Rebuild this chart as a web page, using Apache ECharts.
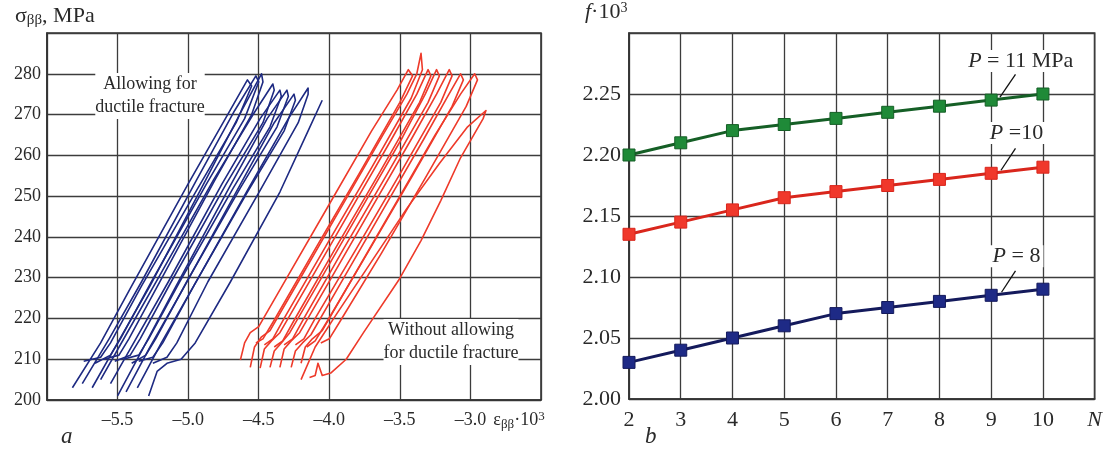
<!DOCTYPE html>
<html><head><meta charset="utf-8">
<script src="https://cdn.jsdelivr.net/npm/echarts@6/dist/echarts.min.js"></script>
<style>html,body{margin:0;padding:0;background:#fff}#c{width:1105px;height:455px}</style>
</head><body><div id="c"></div>
<script>
// ---------- Panel a: hysteresis loops (strain x1e3, stress MPa) ----------
const strainLabels = [-5.5, -5.0, -4.5, -4.0, -3.5, -3.0];
const stressLabels = [200, 210, 220, 230, 240, 250, 260, 270, 280];

const blueLoop1 = [[-5.82,203],[-5.62,214],[-5.40,228],[-5.00,253],[-4.72,270],[-4.58,278.5],[-4.55,277],[-4.66,268],[-4.93,252],[-5.33,228],[-5.55,214],[-5.62,210.5],[-5.74,209.5]];
const blueLoop2 = [[-5.75,204],[-5.56,215],[-5.33,229],[-4.94,254],[-4.67,271],[-4.52,279.5],[-4.50,278],[-4.60,269],[-4.87,253],[-5.26,229],[-5.48,215],[-5.55,211],[-5.66,209]];
const blueLoop3 = [[-5.68,203],[-5.50,214],[-5.27,228],[-4.89,253],[-4.62,271],[-4.48,280],[-4.47,278],[-4.55,270],[-4.81,254],[-5.20,229],[-5.42,215],[-5.49,211],[-5.60,210]];
const blueLoop4 = [[-5.62,205],[-5.44,216],[-5.21,230],[-4.82,254],[-4.54,270],[-4.40,277.5],[-4.39,276],[-4.47,268],[-4.73,253],[-5.12,229],[-5.34,215],[-5.41,211],[-5.52,209.5]];
const blueLoop5 = [[-5.55,204],[-5.37,215],[-5.14,229],[-4.76,253],[-4.49,269],[-4.35,276],[-4.34,274.5],[-4.42,267],[-4.68,252],[-5.06,229],[-5.28,215],[-5.35,211],[-5.46,210]];
const blueLoop6 = [[-5.50,201],[-5.33,212],[-5.10,227],[-4.71,252],[-4.44,269],[-4.30,276],[-4.29,274.5],[-4.37,267],[-4.63,252],[-5.01,229],[-5.23,215],[-5.30,211],[-5.40,209]];
const blueLoop7 = [[-5.44,202],[-5.27,213],[-5.04,227],[-4.66,251],[-4.39,268],[-4.25,275],[-4.24,273.5],[-4.32,266],[-4.58,251],[-4.96,228],[-5.18,214],[-5.25,210.5],[-5.35,209.5]];
const blueLoop8 = [[-5.36,203],[-5.19,214],[-4.96,228],[-4.57,252],[-4.29,269],[-4.15,276.5],[-4.15,275],[-4.22,268],[-4.48,252],[-4.86,229],[-5.08,214],[-5.15,210.5],[-5.25,209]];
const blueLoop9 = [[-5.28,201],[-5.22,207],[-5.15,209],[-5.05,210],[-4.95,214],[-4.70,229],[-4.35,251],[-4.15,266],[-4.05,273.5]];

const redLoop1 = [[-4.63,209.8],[-4.60,214],[-4.56,216.5],[-4.50,218],[-4.30,230],[-4.00,248],[-3.70,266],[-3.52,276],[-3.44,281],[-3.41,279.5],[-3.50,273],[-3.78,256],[-4.10,237],[-4.40,219],[-4.47,215],[-4.52,214]];
const redLoop2 = [[-4.56,208],[-4.53,213],[-4.48,215.5],[-4.42,217],[-4.22,229],[-3.92,247],[-3.62,265],[-3.45,275],[-3.38,280],[-3.35,285],[-3.34,281],[-3.42,274],[-3.70,257],[-4.02,238],[-4.32,220],[-4.40,215],[-4.46,213.5]];
const redLoop3 = [[-4.49,207.8],[-4.46,212.5],[-4.41,214.5],[-4.35,216.5],[-4.15,228.5],[-3.85,246.5],[-3.55,264.5],[-3.38,275],[-3.30,281],[-3.28,279.5],[-3.36,273],[-3.64,256],[-3.96,237],[-4.25,219.5],[-4.33,214.5],[-4.39,213]];
const redLoop4 = [[-4.42,208],[-4.39,212],[-4.34,214],[-4.28,216.5],[-4.08,228.5],[-3.78,246.5],[-3.48,264.5],[-3.32,275],[-3.24,281],[-3.22,279.5],[-3.30,273],[-3.58,256],[-3.90,237],[-4.18,220],[-4.26,215],[-4.32,213.5]];
const redLoop5 = [[-4.35,208],[-4.32,212.5],[-4.27,214.5],[-4.21,216.5],[-4.01,228.5],[-3.71,246.5],[-3.41,264.5],[-3.24,275],[-3.15,281],[-3.13,279.5],[-3.21,273],[-3.49,256],[-3.81,237],[-4.10,220],[-4.18,215],[-4.24,213.5]];
const redLoop6 = [[-4.27,208],[-4.24,212],[-4.19,214],[-4.13,216],[-3.93,228],[-3.63,246],[-3.33,264],[-3.16,274.5],[-3.07,280],[-3.05,278.5],[-3.13,272],[-3.41,255],[-3.73,236],[-4.02,219],[-4.10,214.5],[-4.16,213]];
const redLoop7 = [[-4.20,209],[-4.17,213],[-4.12,215],[-4.05,217],[-3.85,229],[-3.55,247],[-3.25,265],[-3.07,275],[-2.97,280],[-2.95,278.5],[-3.03,272],[-3.31,255],[-3.63,236],[-3.92,219.5],[-4.00,215],[-4.06,214]];
const redLoop8 = [[-4.20,205],[-4.10,213],[-3.95,221],[-3.70,234],[-3.45,247],[-3.22,258],[-3.02,267],[-2.89,271],[-2.91,269],[-3.07,259.4],[-3.21,248.9],[-3.35,239.1],[-3.51,229.3],[-3.76,216.4],[-3.88,210],[-3.99,206.6],[-4.05,206],[-4.08,209],[-4.10,206],[-4.14,205.5]];

const blueLoops = [blueLoop1, blueLoop2, blueLoop3, blueLoop4, blueLoop5, blueLoop6, blueLoop7, blueLoop8, blueLoop9];
const redLoops = [redLoop1, redLoop2, redLoop3, redLoop4, redLoop5, redLoop6, redLoop7, redLoop8];

// ---------- Panel b: f*1e3 vs N ----------
const cycles = [2, 3, 4, 5, 6, 7, 8, 9, 10];
const fP11 = [2.200, 2.210, 2.220, 2.225, 2.230, 2.235, 2.240, 2.245, 2.250];
const fP10 = [2.135, 2.145, 2.155, 2.165, 2.170, 2.175, 2.180, 2.185, 2.190];
const fP8  = [2.030, 2.040, 2.050, 2.060, 2.070, 2.075, 2.080, 2.085, 2.090];
const fLabels = [2.00, 2.05, 2.10, 2.15, 2.20, 2.25];

const FONT = '"Liberation Serif", "DejaVu Serif", serif';
const TXT = '#2a2a2a';
const GRIDC = '#3c3c3c';
const BLUE = '#1e2a82';
const RED = '#ee3a2a';
const FS_A = 18;   // panel a font size
const FS_B = 22;   // panel b font size

const chart = echarts.init(document.getElementById('c'), null, {renderer: 'canvas'});

function loopSeries(loop, color) {
  return {
    type: 'line', xAxisIndex: 0, yAxisIndex: 0, data: loop,
    showSymbol: false, smooth: false, silent: true,
    lineStyle: {color: color, width: 1.6, join: 'round'}, z: 3
  };
}

function fSeries(name, vals, lineColor, markColor, leader, labelPos, labelText) {
  return {
    name: name, type: 'line', xAxisIndex: 1, yAxisIndex: 1,
    data: cycles.map((c, i) => [c, vals[i]]),
    symbol: 'rect', symbolSize: 12, showSymbol: true,
    lineStyle: {color: lineColor, width: 3},
    itemStyle: {color: markColor, borderColor: lineColor, borderWidth: 1},
    z: 4,
    markLine: {
      silent: true, symbol: ['none', 'none'], animation: false,
      lineStyle: {color: '#111', width: 1.3, type: 'solid'},
      label: {show: false},
      data: [[{coord: leader[0]}, {coord: leader[1]}]]
    },
    markPoint: {
      silent: true, animation: false, symbol: 'rect', symbolSize: 1,
      itemStyle: {color: 'rgba(0,0,0,0)'},
      label: {
        show: true, position: 'inside', formatter: labelText,
        fontFamily: FONT, fontSize: FS_B, color: TXT,
        backgroundColor: '#fff', padding: [0, 3],
        rich: {i: {fontStyle: 'italic', fontFamily: FONT, fontSize: FS_B, color: TXT}}
      },
      data: [{coord: labelPos}]
    }
  };
}

const option = {
  backgroundColor: '#fff',
  animation: false,
  textStyle: {fontFamily: FONT},
  grid: [
    {left: 47, right: 564, top: 33, bottom: 55, show: true, borderColor: '#333', borderWidth: 1.6, backgroundColor: 'transparent'},
    {left: 629, right: 8, top: 33, bottom: 56, show: true, borderColor: '#333', borderWidth: 1.6, backgroundColor: 'transparent'}
  ],
  xAxis: [
    {
      gridIndex: 0, type: 'value', min: -6, max: -2.5, interval: 0.5,
      axisLine: {show: true, lineStyle: {color: '#333', width: 1.6}},
      axisTick: {show: false},
      splitLine: {show: true, lineStyle: {color: GRIDC, width: 1.3}},
      axisLabel: {
        fontFamily: FONT, fontSize: FS_A, color: TXT, margin: 11,
        showMinLabel: true, showMaxLabel: true,
        formatter: v => strainLabels.some(t => Math.abs(t - v) < 1e-6) ? '\u2013' + Math.abs(v).toFixed(1) : ''
      },
      name: '\u03b5{s|\u03b2\u03b2}\u00b710{p|3}', nameLocation: 'end', nameGap: -22,
      nameTextStyle: {
        fontFamily: FONT, fontSize: FS_A, color: TXT, align: 'center', verticalAlign: 'top', padding: [10, 0, 0, 0],
        rich: {s: {fontSize: 13, verticalAlign: 'bottom', padding: [7, 0, 0, 0], fontFamily: FONT, color: TXT},
               p: {fontSize: 13, verticalAlign: 'top', padding: [0, 0, 8, 0], fontFamily: FONT, color: TXT}}
      }
    },
    {
      gridIndex: 1, type: 'value', min: 2, max: 11, interval: 1,
      axisLine: {show: true, lineStyle: {color: '#333', width: 1.6}},
      axisTick: {show: false},
      splitLine: {show: true, lineStyle: {color: GRIDC, width: 1.3}},
      axisLabel: {
        fontFamily: FONT, fontSize: FS_B, color: TXT, margin: 10,
        showMinLabel: true, showMaxLabel: true,
        formatter: v => (v <= 10 ? String(v) : '{i|N}'),
        rich: {i: {fontStyle: 'italic', fontFamily: FONT, fontSize: FS_B, color: TXT}}
      }
    }
  ],
  yAxis: [
    {
      gridIndex: 0, type: 'value', min: 200, max: 290, interval: 10,
      axisLine: {show: true, lineStyle: {color: '#333', width: 1.6}},
      axisTick: {show: false},
      splitLine: {show: true, lineStyle: {color: GRIDC, width: 1.3}},
      axisLabel: {
        fontFamily: FONT, fontSize: FS_A, color: TXT, margin: 6,
        formatter: v => stressLabels.includes(Math.round(v)) ? String(Math.round(v)) : ''
      }
    },
    {
      gridIndex: 1, type: 'value', min: 2.0, max: 2.3, interval: 0.05,
      axisLine: {show: true, lineStyle: {color: '#333', width: 1.6}},
      axisTick: {show: false},
      splitLine: {show: true, lineStyle: {color: GRIDC, width: 1.3}},
      axisLabel: {
        fontFamily: FONT, fontSize: FS_B, color: TXT, margin: 8,
        formatter: v => fLabels.some(t => Math.abs(t - v) < 1e-6) ? v.toFixed(2) : ''
      }
    }
  ],
  graphic: [
    {type: 'text', left: 15, top: 5, style: {
      text: '\u03c3{s|\u03b2\u03b2}, MPa', fill: TXT, font: '22px ' + FONT,
      rich: {s: {fontSize: 15, fontFamily: FONT, fill: TXT, padding: [9, 0, 0, 0]}}
    }},
    {type: 'text', left: 585, top: 1, style: {
      text: '{i|f}\u00b710{p|3}', fill: TXT, font: '22px ' + FONT,
      rich: {i: {fontStyle: 'italic', fontSize: 22, fontFamily: FONT, fill: TXT},
             p: {fontSize: 14, fontFamily: FONT, fill: TXT, padding: [0, 0, 9, 0]}}
    }},
    {type: 'text', left: 61, top: 425, style: {text: 'a', fill: TXT, font: 'italic 23px ' + FONT}},
    {type: 'text', left: 645, top: 425, style: {text: 'b', fill: TXT, font: 'italic 23px ' + FONT}},
    {type: 'text', x: 150, y: 96, z: 10, style: {
      text: 'Allowing for\nductile fracture', fill: TXT, font: '18px ' + FONT,
      align: 'center', verticalAlign: 'middle', lineHeight: 23, backgroundColor: '#fff'
    }},
    {type: 'text', x: 451, y: 342, z: 10, style: {
      text: 'Without allowing\nfor ductile fracture', fill: TXT, font: '18px ' + FONT,
      align: 'center', verticalAlign: 'middle', lineHeight: 23, backgroundColor: '#fff'
    }}
  ],
  series: [
    ...blueLoops.map(l => loopSeries(l, BLUE)),
    ...redLoops.map(l => loopSeries(l, RED)),
    fSeries('P = 11 MPa', fP11, '#155f26', '#1f8a38', [[9.17, 2.2475], [9.47, 2.266]], [9.57, 2.277], '{i|P} = 11 MPa'),
    fSeries('P = 10', fP10, '#d9261c', '#f0382b', [[9.19, 2.1875], [9.47, 2.2055]], [9.49, 2.218], '{i|P} =10'),
    fSeries('P = 8', fP8, '#141a5c', '#1e2a86', [[9.20, 2.0875], [9.47, 2.105]], [9.49, 2.117], '{i|P} = 8')
  ]
};
chart.setOption(option);
</script></body></html>
